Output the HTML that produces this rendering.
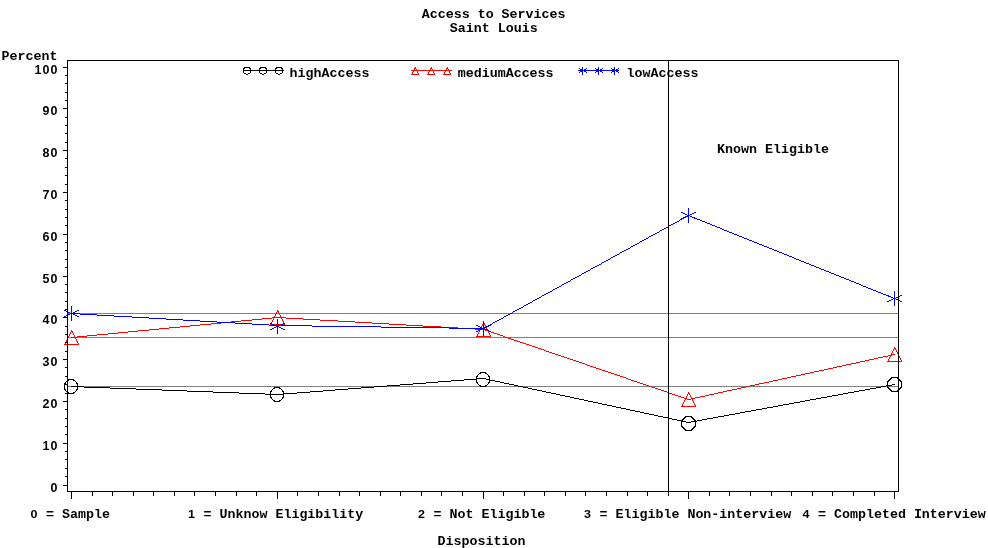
<!DOCTYPE html>
<html lang="en"><head><meta charset="utf-8"><title>Access to Services - Saint Louis</title>
<style>
html,body{margin:0;padding:0;background:#fff;}
body{width:988px;height:548px;overflow:hidden;position:relative;}
svg{position:absolute;left:0;top:0;display:block;}
text{font-family:"Liberation Mono","DejaVu Sans Mono",monospace;font-size:13.333px;font-weight:bold;fill:#000;white-space:pre;}
.d{font-family:"Liberation Sans","DejaVu Sans",sans-serif;font-size:12.5px;letter-spacing:1.05px;}
path{shape-rendering:crispEdges;stroke:none;}
</style></head><body>
<svg width="988" height="548" viewBox="0 0 988 548">
<rect x="0" y="0" width="988" height="548" fill="#fff"/>
<path fill="#808080" d="M68 313h830v1h-830zM68 337h830v1h-830zM68 386h830v1h-830z"/>
<path fill="#000" d="M480 372h6v1h-6zM479 373h2v1h-2zM485 373h2v1h-2zM478 374h1v1h-1zM487 374h1v1h-1zM477 375h1v1h-1zM488 375h1v1h-1zM476 376h2v1h-2zM488 376h2v1h-2zM476 377h1v1h-1zM489 377h1v1h-1zM891 377h7v1h-7zM476 378h10v1h-10zM489 378h1v1h-1zM890 378h2v1h-2zM897 378h2v1h-2zM68 379h6v1h-6zM464 379h13v1h-13zM486 379h4v1h-4zM889 379h2v1h-2zM898 379h2v1h-2zM67 380h2v1h-2zM73 380h2v1h-2zM451 380h13v1h-13zM476 380h1v1h-1zM489 380h6v1h-6zM888 380h2v1h-2zM899 380h2v1h-2zM66 381h1v1h-1zM75 381h1v1h-1zM438 381h13v1h-13zM476 381h1v1h-1zM489 381h1v1h-1zM495 381h5v1h-5zM887 381h2v1h-2zM900 381h2v1h-2zM65 382h1v1h-1zM76 382h1v1h-1zM426 382h12v1h-12zM476 382h2v1h-2zM488 382h2v1h-2zM500 382h4v1h-4zM887 382h1v1h-1zM901 382h1v1h-1zM64 383h2v1h-2zM76 383h2v1h-2zM413 383h13v1h-13zM477 383h1v1h-1zM488 383h1v1h-1zM504 383h5v1h-5zM887 383h1v1h-1zM901 383h1v1h-1zM64 384h1v1h-1zM77 384h1v1h-1zM400 384h13v1h-13zM478 384h1v1h-1zM487 384h1v1h-1zM509 384h5v1h-5zM887 384h1v1h-1zM892 384h3v1h-3zM901 384h1v1h-1zM64 385h1v1h-1zM77 385h1v1h-1zM387 385h13v1h-13zM479 385h2v1h-2zM485 385h2v1h-2zM514 385h4v1h-4zM886 385h6v1h-6zM901 385h1v1h-1zM64 386h1v1h-1zM71 386h13v1h-13zM374 386h13v1h-13zM480 386h6v1h-6zM518 386h5v1h-5zM881 386h5v1h-5zM887 386h1v1h-1zM901 386h1v1h-1zM64 387h1v1h-1zM77 387h1v1h-1zM84 387h26v1h-26zM274 387h6v1h-6zM361 387h13v1h-13zM523 387h5v1h-5zM876 387h5v1h-5zM887 387h2v1h-2zM900 387h2v1h-2zM64 388h1v1h-1zM77 388h1v1h-1zM110 388h26v1h-26zM273 388h2v1h-2zM279 388h2v1h-2zM348 388h13v1h-13zM528 388h4v1h-4zM870 388h6v1h-6zM888 388h2v1h-2zM899 388h2v1h-2zM64 389h2v1h-2zM76 389h2v1h-2zM136 389h26v1h-26zM272 389h1v1h-1zM281 389h1v1h-1zM335 389h13v1h-13zM532 389h5v1h-5zM865 389h5v1h-5zM889 389h2v1h-2zM898 389h2v1h-2zM65 390h1v1h-1zM76 390h1v1h-1zM162 390h25v1h-25zM271 390h1v1h-1zM282 390h1v1h-1zM323 390h12v1h-12zM537 390h5v1h-5zM859 390h6v1h-6zM890 390h2v1h-2zM897 390h2v1h-2zM66 391h1v1h-1zM75 391h1v1h-1zM187 391h26v1h-26zM270 391h2v1h-2zM282 391h2v1h-2zM310 391h13v1h-13zM542 391h4v1h-4zM854 391h5v1h-5zM891 391h7v1h-7zM67 392h2v1h-2zM73 392h2v1h-2zM213 392h26v1h-26zM270 392h1v1h-1zM283 392h1v1h-1zM297 392h13v1h-13zM546 392h5v1h-5zM848 392h6v1h-6zM68 393h6v1h-6zM239 393h26v1h-26zM270 393h1v1h-1zM283 393h14v1h-14zM551 393h5v1h-5zM843 393h5v1h-5zM265 394h19v1h-19zM556 394h4v1h-4zM838 394h5v1h-5zM270 395h1v1h-1zM283 395h1v1h-1zM560 395h5v1h-5zM832 395h6v1h-6zM270 396h1v1h-1zM283 396h1v1h-1zM565 396h5v1h-5zM827 396h5v1h-5zM270 397h2v1h-2zM282 397h2v1h-2zM570 397h4v1h-4zM821 397h6v1h-6zM271 398h1v1h-1zM282 398h1v1h-1zM574 398h5v1h-5zM816 398h5v1h-5zM272 399h1v1h-1zM281 399h1v1h-1zM579 399h5v1h-5zM810 399h6v1h-6zM273 400h2v1h-2zM279 400h2v1h-2zM584 400h4v1h-4zM805 400h5v1h-5zM274 401h6v1h-6zM588 401h5v1h-5zM800 401h5v1h-5zM593 402h5v1h-5zM794 402h6v1h-6zM598 403h4v1h-4zM789 403h5v1h-5zM602 404h5v1h-5zM783 404h6v1h-6zM607 405h5v1h-5zM778 405h5v1h-5zM612 406h4v1h-4zM773 406h5v1h-5zM616 407h5v1h-5zM767 407h6v1h-6zM621 408h5v1h-5zM762 408h5v1h-5zM626 409h4v1h-4zM756 409h6v1h-6zM630 410h5v1h-5zM751 410h5v1h-5zM635 411h5v1h-5zM745 411h6v1h-6zM640 412h4v1h-4zM740 412h5v1h-5zM644 413h5v1h-5zM735 413h5v1h-5zM649 414h5v1h-5zM729 414h6v1h-6zM654 415h4v1h-4zM724 415h5v1h-5zM658 416h5v1h-5zM685 416h7v1h-7zM718 416h6v1h-6zM663 417h5v1h-5zM684 417h2v1h-2zM691 417h2v1h-2zM713 417h5v1h-5zM668 418h4v1h-4zM683 418h2v1h-2zM692 418h2v1h-2zM707 418h6v1h-6zM672 419h5v1h-5zM682 419h2v1h-2zM693 419h2v1h-2zM702 419h5v1h-5zM677 420h6v1h-6zM694 420h2v1h-2zM697 420h5v1h-5zM681 421h5v1h-5zM691 421h6v1h-6zM681 422h1v1h-1zM686 422h5v1h-5zM695 422h1v1h-1zM681 423h1v1h-1zM695 423h1v1h-1zM681 424h1v1h-1zM695 424h1v1h-1zM681 425h1v1h-1zM695 425h1v1h-1zM681 426h2v1h-2zM694 426h2v1h-2zM682 427h2v1h-2zM693 427h2v1h-2zM683 428h2v1h-2zM692 428h2v1h-2zM684 429h2v1h-2zM691 429h2v1h-2zM685 430h7v1h-7z"/>
<path fill="#f00" d="M415 67h1v1h-1zM431 67h1v1h-1zM447 67h1v1h-1zM414 68h2v1h-2zM430 68h2v1h-2zM446 68h2v1h-2zM414 69h1v1h-1zM416 69h1v1h-1zM430 69h1v1h-1zM432 69h1v1h-1zM446 69h1v1h-1zM448 69h1v1h-1zM411 70h41v1h-41zM413 71h1v1h-1zM417 71h1v1h-1zM429 71h1v1h-1zM433 71h1v1h-1zM445 71h1v1h-1zM449 71h1v1h-1zM412 72h1v1h-1zM417 72h1v1h-1zM428 72h1v1h-1zM433 72h1v1h-1zM444 72h1v1h-1zM449 72h1v1h-1zM412 73h1v1h-1zM418 73h1v1h-1zM428 73h1v1h-1zM434 73h1v1h-1zM444 73h1v1h-1zM450 73h1v1h-1zM411 74h8v1h-8zM427 74h8v1h-8zM443 74h8v1h-8zM277 310h1v1h-1zM277 311h2v1h-2zM276 312h1v1h-1zM278 312h1v1h-1zM276 313h1v1h-1zM279 313h1v1h-1zM275 314h1v1h-1zM279 314h1v1h-1zM275 315h1v1h-1zM280 315h1v1h-1zM274 316h1v1h-1zM280 316h1v1h-1zM272 317h14v1h-14zM262 318h10v1h-10zM273 318h1v1h-1zM281 318h1v1h-1zM286 318h17v1h-17zM252 319h10v1h-10zM273 319h1v1h-1zM282 319h1v1h-1zM303 319h17v1h-17zM241 320h11v1h-11zM272 320h1v1h-1zM282 320h1v1h-1zM320 320h18v1h-18zM231 321h10v1h-10zM272 321h1v1h-1zM283 321h1v1h-1zM338 321h17v1h-17zM221 322h10v1h-10zM271 322h1v1h-1zM283 322h1v1h-1zM355 322h17v1h-17zM483 322h1v1h-1zM211 323h10v1h-10zM271 323h1v1h-1zM284 323h1v1h-1zM372 323h17v1h-17zM483 323h2v1h-2zM200 324h11v1h-11zM270 324h15v1h-15zM389 324h17v1h-17zM482 324h1v1h-1zM484 324h1v1h-1zM190 325h10v1h-10zM406 325h17v1h-17zM482 325h1v1h-1zM485 325h1v1h-1zM180 326h10v1h-10zM423 326h18v1h-18zM481 326h1v1h-1zM485 326h1v1h-1zM169 327h11v1h-11zM441 327h17v1h-17zM481 327h1v1h-1zM486 327h1v1h-1zM159 328h10v1h-10zM458 328h17v1h-17zM480 328h1v1h-1zM486 328h1v1h-1zM149 329h10v1h-10zM475 329h10v1h-10zM487 329h1v1h-1zM71 330h1v1h-1zM138 330h11v1h-11zM479 330h1v1h-1zM485 330h3v1h-3zM71 331h2v1h-2zM128 331h10v1h-10zM479 331h1v1h-1zM488 331h3v1h-3zM70 332h1v1h-1zM72 332h1v1h-1zM118 332h10v1h-10zM478 332h1v1h-1zM488 332h1v1h-1zM491 332h3v1h-3zM70 333h1v1h-1zM73 333h1v1h-1zM108 333h10v1h-10zM478 333h1v1h-1zM489 333h1v1h-1zM494 333h3v1h-3zM69 334h1v1h-1zM73 334h1v1h-1zM97 334h11v1h-11zM477 334h1v1h-1zM489 334h1v1h-1zM497 334h3v1h-3zM69 335h1v1h-1zM74 335h1v1h-1zM87 335h10v1h-10zM477 335h1v1h-1zM490 335h1v1h-1zM500 335h3v1h-3zM68 336h1v1h-1zM74 336h1v1h-1zM77 336h10v1h-10zM476 336h15v1h-15zM503 336h2v1h-2zM68 337h1v1h-1zM71 337h6v1h-6zM505 337h3v1h-3zM67 338h1v1h-1zM75 338h1v1h-1zM508 338h3v1h-3zM67 339h1v1h-1zM76 339h1v1h-1zM511 339h3v1h-3zM66 340h1v1h-1zM76 340h1v1h-1zM514 340h3v1h-3zM66 341h1v1h-1zM77 341h1v1h-1zM517 341h3v1h-3zM65 342h1v1h-1zM77 342h1v1h-1zM520 342h3v1h-3zM65 343h1v1h-1zM78 343h1v1h-1zM523 343h3v1h-3zM64 344h15v1h-15zM526 344h3v1h-3zM529 345h3v1h-3zM532 346h3v1h-3zM535 347h3v1h-3zM894 347h1v1h-1zM538 348h3v1h-3zM894 348h2v1h-2zM541 349h3v1h-3zM893 349h1v1h-1zM895 349h1v1h-1zM544 350h2v1h-2zM893 350h1v1h-1zM896 350h1v1h-1zM546 351h3v1h-3zM892 351h1v1h-1zM896 351h1v1h-1zM549 352h3v1h-3zM892 352h1v1h-1zM897 352h1v1h-1zM552 353h3v1h-3zM891 353h1v1h-1zM897 353h1v1h-1zM555 354h3v1h-3zM891 354h4v1h-4zM898 354h1v1h-1zM558 355h3v1h-3zM888 355h4v1h-4zM898 355h1v1h-1zM561 356h3v1h-3zM883 356h5v1h-5zM890 356h1v1h-1zM899 356h1v1h-1zM564 357h3v1h-3zM878 357h5v1h-5zM889 357h1v1h-1zM899 357h1v1h-1zM567 358h3v1h-3zM874 358h4v1h-4zM889 358h1v1h-1zM900 358h1v1h-1zM570 359h3v1h-3zM869 359h5v1h-5zM888 359h1v1h-1zM900 359h1v1h-1zM573 360h3v1h-3zM865 360h4v1h-4zM888 360h1v1h-1zM901 360h1v1h-1zM576 361h3v1h-3zM860 361h5v1h-5zM887 361h15v1h-15zM579 362h3v1h-3zM856 362h4v1h-4zM582 363h3v1h-3zM851 363h5v1h-5zM585 364h2v1h-2zM846 364h5v1h-5zM587 365h3v1h-3zM842 365h4v1h-4zM590 366h3v1h-3zM837 366h5v1h-5zM593 367h3v1h-3zM833 367h4v1h-4zM596 368h3v1h-3zM828 368h5v1h-5zM599 369h3v1h-3zM824 369h4v1h-4zM602 370h3v1h-3zM819 370h5v1h-5zM605 371h3v1h-3zM814 371h5v1h-5zM608 372h3v1h-3zM810 372h4v1h-4zM611 373h3v1h-3zM805 373h5v1h-5zM614 374h3v1h-3zM801 374h4v1h-4zM617 375h3v1h-3zM796 375h5v1h-5zM620 376h3v1h-3zM791 376h5v1h-5zM623 377h3v1h-3zM787 377h4v1h-4zM626 378h2v1h-2zM782 378h5v1h-5zM628 379h3v1h-3zM778 379h4v1h-4zM631 380h3v1h-3zM773 380h5v1h-5zM634 381h3v1h-3zM769 381h4v1h-4zM637 382h3v1h-3zM764 382h5v1h-5zM640 383h3v1h-3zM759 383h5v1h-5zM643 384h3v1h-3zM755 384h4v1h-4zM646 385h3v1h-3zM750 385h5v1h-5zM649 386h3v1h-3zM746 386h4v1h-4zM652 387h3v1h-3zM741 387h5v1h-5zM655 388h3v1h-3zM737 388h4v1h-4zM658 389h3v1h-3zM732 389h5v1h-5zM661 390h3v1h-3zM727 390h5v1h-5zM664 391h3v1h-3zM723 391h4v1h-4zM667 392h2v1h-2zM688 392h1v1h-1zM718 392h5v1h-5zM669 393h3v1h-3zM688 393h2v1h-2zM714 393h4v1h-4zM672 394h3v1h-3zM687 394h1v1h-1zM689 394h1v1h-1zM709 394h5v1h-5zM675 395h3v1h-3zM687 395h1v1h-1zM690 395h1v1h-1zM705 395h4v1h-4zM678 396h3v1h-3zM686 396h1v1h-1zM690 396h1v1h-1zM700 396h5v1h-5zM681 397h3v1h-3zM686 397h1v1h-1zM691 397h1v1h-1zM695 397h5v1h-5zM684 398h3v1h-3zM691 398h4v1h-4zM685 399h1v1h-1zM687 399h4v1h-4zM692 399h1v1h-1zM684 400h1v1h-1zM692 400h1v1h-1zM684 401h1v1h-1zM693 401h1v1h-1zM683 402h1v1h-1zM693 402h1v1h-1zM683 403h1v1h-1zM694 403h1v1h-1zM682 404h1v1h-1zM694 404h1v1h-1zM682 405h1v1h-1zM695 405h1v1h-1zM681 406h15v1h-15z"/>
<path fill="#00f" d="M582 67h1v1h-1zM598 67h1v1h-1zM614 67h1v1h-1zM579 68h1v1h-1zM582 68h1v1h-1zM586 68h1v1h-1zM595 68h1v1h-1zM598 68h1v1h-1zM602 68h1v1h-1zM611 68h1v1h-1zM614 68h1v1h-1zM618 68h1v1h-1zM580 69h3v1h-3zM584 69h2v1h-2zM596 69h3v1h-3zM600 69h2v1h-2zM612 69h3v1h-3zM616 69h2v1h-2zM578 70h41v1h-41zM580 71h3v1h-3zM584 71h2v1h-2zM596 71h3v1h-3zM600 71h2v1h-2zM612 71h3v1h-3zM616 71h2v1h-2zM579 72h1v1h-1zM582 72h1v1h-1zM586 72h1v1h-1zM595 72h1v1h-1zM598 72h1v1h-1zM602 72h1v1h-1zM611 72h1v1h-1zM614 72h1v1h-1zM618 72h1v1h-1zM582 73h1v1h-1zM598 73h1v1h-1zM614 73h1v1h-1zM582 74h1v1h-1zM598 74h1v1h-1zM614 74h1v1h-1zM688 208h1v1h-1zM688 209h1v1h-1zM688 210h1v1h-1zM688 211h1v1h-1zM681 212h2v1h-2zM688 212h1v1h-1zM694 212h2v1h-2zM683 213h2v1h-2zM688 213h1v1h-1zM692 213h2v1h-2zM685 214h2v1h-2zM688 214h1v1h-1zM690 214h2v1h-2zM687 215h3v1h-3zM685 216h4v1h-4zM690 216h2v1h-2zM683 217h3v1h-3zM688 217h1v1h-1zM692 217h3v1h-3zM681 218h3v1h-3zM688 218h1v1h-1zM694 218h3v1h-3zM680 219h2v1h-2zM688 219h1v1h-1zM697 219h3v1h-3zM679 220h1v1h-1zM688 220h1v1h-1zM700 220h2v1h-2zM677 221h2v1h-2zM688 221h1v1h-1zM702 221h3v1h-3zM675 222h2v1h-2zM688 222h1v1h-1zM705 222h2v1h-2zM673 223h2v1h-2zM707 223h3v1h-3zM671 224h2v1h-2zM710 224h2v1h-2zM669 225h2v1h-2zM712 225h3v1h-3zM668 226h1v1h-1zM715 226h2v1h-2zM666 227h2v1h-2zM717 227h3v1h-3zM664 228h2v1h-2zM720 228h2v1h-2zM662 229h2v1h-2zM722 229h2v1h-2zM660 230h2v1h-2zM724 230h3v1h-3zM659 231h1v1h-1zM727 231h2v1h-2zM657 232h2v1h-2zM729 232h3v1h-3zM655 233h2v1h-2zM732 233h2v1h-2zM653 234h2v1h-2zM734 234h3v1h-3zM651 235h2v1h-2zM737 235h2v1h-2zM649 236h2v1h-2zM739 236h3v1h-3zM648 237h1v1h-1zM742 237h2v1h-2zM646 238h2v1h-2zM744 238h3v1h-3zM644 239h2v1h-2zM747 239h2v1h-2zM642 240h2v1h-2zM749 240h3v1h-3zM640 241h2v1h-2zM752 241h2v1h-2zM639 242h1v1h-1zM754 242h3v1h-3zM637 243h2v1h-2zM757 243h2v1h-2zM635 244h2v1h-2zM759 244h3v1h-3zM633 245h2v1h-2zM762 245h2v1h-2zM631 246h2v1h-2zM764 246h3v1h-3zM630 247h1v1h-1zM767 247h2v1h-2zM628 248h2v1h-2zM769 248h3v1h-3zM626 249h2v1h-2zM772 249h2v1h-2zM624 250h2v1h-2zM774 250h3v1h-3zM622 251h2v1h-2zM777 251h2v1h-2zM620 252h2v1h-2zM779 252h3v1h-3zM619 253h1v1h-1zM782 253h2v1h-2zM617 254h2v1h-2zM784 254h3v1h-3zM615 255h2v1h-2zM787 255h2v1h-2zM613 256h2v1h-2zM789 256h3v1h-3zM611 257h2v1h-2zM792 257h2v1h-2zM610 258h1v1h-1zM794 258h2v1h-2zM608 259h2v1h-2zM796 259h3v1h-3zM606 260h2v1h-2zM799 260h2v1h-2zM604 261h2v1h-2zM801 261h3v1h-3zM602 262h2v1h-2zM804 262h2v1h-2zM601 263h1v1h-1zM806 263h3v1h-3zM599 264h2v1h-2zM809 264h2v1h-2zM597 265h2v1h-2zM811 265h3v1h-3zM595 266h2v1h-2zM814 266h2v1h-2zM593 267h2v1h-2zM816 267h3v1h-3zM591 268h2v1h-2zM819 268h2v1h-2zM590 269h1v1h-1zM821 269h3v1h-3zM588 270h2v1h-2zM824 270h2v1h-2zM586 271h2v1h-2zM826 271h3v1h-3zM584 272h2v1h-2zM829 272h2v1h-2zM582 273h2v1h-2zM831 273h3v1h-3zM581 274h1v1h-1zM834 274h2v1h-2zM579 275h2v1h-2zM836 275h3v1h-3zM577 276h2v1h-2zM839 276h2v1h-2zM575 277h2v1h-2zM841 277h3v1h-3zM573 278h2v1h-2zM844 278h2v1h-2zM571 279h2v1h-2zM846 279h3v1h-3zM570 280h1v1h-1zM849 280h2v1h-2zM568 281h2v1h-2zM851 281h3v1h-3zM566 282h2v1h-2zM854 282h2v1h-2zM564 283h2v1h-2zM856 283h3v1h-3zM562 284h2v1h-2zM859 284h2v1h-2zM561 285h1v1h-1zM861 285h2v1h-2zM559 286h2v1h-2zM863 286h3v1h-3zM557 287h2v1h-2zM866 287h2v1h-2zM555 288h2v1h-2zM868 288h3v1h-3zM553 289h2v1h-2zM871 289h2v1h-2zM552 290h1v1h-1zM873 290h3v1h-3zM550 291h2v1h-2zM876 291h2v1h-2zM894 291h1v1h-1zM548 292h2v1h-2zM878 292h3v1h-3zM894 292h1v1h-1zM546 293h2v1h-2zM881 293h2v1h-2zM894 293h1v1h-1zM544 294h2v1h-2zM883 294h3v1h-3zM894 294h1v1h-1zM542 295h2v1h-2zM886 295h3v1h-3zM894 295h1v1h-1zM900 295h2v1h-2zM541 296h1v1h-1zM888 296h3v1h-3zM894 296h1v1h-1zM898 296h2v1h-2zM539 297h2v1h-2zM891 297h2v1h-2zM894 297h1v1h-1zM896 297h2v1h-2zM537 298h2v1h-2zM893 298h3v1h-3zM535 299h2v1h-2zM891 299h2v1h-2zM894 299h1v1h-1zM896 299h2v1h-2zM533 300h2v1h-2zM889 300h2v1h-2zM894 300h1v1h-1zM898 300h2v1h-2zM532 301h1v1h-1zM887 301h2v1h-2zM894 301h1v1h-1zM900 301h2v1h-2zM530 302h2v1h-2zM894 302h1v1h-1zM528 303h2v1h-2zM894 303h1v1h-1zM526 304h2v1h-2zM894 304h1v1h-1zM524 305h2v1h-2zM894 305h1v1h-1zM71 306h1v1h-1zM523 306h1v1h-1zM71 307h1v1h-1zM521 307h2v1h-2zM71 308h1v1h-1zM519 308h2v1h-2zM71 309h1v1h-1zM517 309h2v1h-2zM64 310h2v1h-2zM71 310h1v1h-1zM77 310h2v1h-2zM515 310h2v1h-2zM66 311h2v1h-2zM71 311h1v1h-1zM75 311h2v1h-2zM513 311h2v1h-2zM68 312h2v1h-2zM71 312h1v1h-1zM73 312h2v1h-2zM512 312h1v1h-1zM70 313h10v1h-10zM510 313h2v1h-2zM68 314h2v1h-2zM71 314h1v1h-1zM73 314h2v1h-2zM80 314h17v1h-17zM508 314h2v1h-2zM66 315h2v1h-2zM71 315h1v1h-1zM75 315h2v1h-2zM97 315h17v1h-17zM506 315h2v1h-2zM64 316h2v1h-2zM71 316h1v1h-1zM77 316h2v1h-2zM114 316h18v1h-18zM504 316h2v1h-2zM71 317h1v1h-1zM132 317h17v1h-17zM503 317h1v1h-1zM71 318h1v1h-1zM149 318h17v1h-17zM501 318h2v1h-2zM71 319h1v1h-1zM166 319h17v1h-17zM277 319h1v1h-1zM499 319h2v1h-2zM71 320h1v1h-1zM183 320h17v1h-17zM277 320h1v1h-1zM497 320h2v1h-2zM200 321h17v1h-17zM277 321h1v1h-1zM483 321h1v1h-1zM495 321h2v1h-2zM217 322h18v1h-18zM277 322h1v1h-1zM483 322h1v1h-1zM493 322h2v1h-2zM235 323h17v1h-17zM270 323h2v1h-2zM277 323h1v1h-1zM283 323h2v1h-2zM483 323h1v1h-1zM492 323h1v1h-1zM252 324h17v1h-17zM272 324h2v1h-2zM277 324h1v1h-1zM281 324h2v1h-2zM483 324h1v1h-1zM490 324h2v1h-2zM269 325h43v1h-43zM476 325h2v1h-2zM483 325h1v1h-1zM488 325h3v1h-3zM276 326h3v1h-3zM312 326h69v1h-69zM478 326h2v1h-2zM483 326h1v1h-1zM486 326h3v1h-3zM274 327h2v1h-2zM277 327h1v1h-1zM279 327h2v1h-2zM381 327h68v1h-68zM480 327h2v1h-2zM483 327h4v1h-4zM272 328h2v1h-2zM277 328h1v1h-1zM281 328h2v1h-2zM449 328h36v1h-36zM270 329h2v1h-2zM277 329h1v1h-1zM283 329h2v1h-2zM480 329h2v1h-2zM483 329h1v1h-1zM485 329h2v1h-2zM277 330h1v1h-1zM478 330h2v1h-2zM483 330h1v1h-1zM487 330h2v1h-2zM277 331h1v1h-1zM476 331h2v1h-2zM483 331h1v1h-1zM489 331h2v1h-2zM277 332h1v1h-1zM483 332h1v1h-1zM277 333h1v1h-1zM483 333h1v1h-1zM483 334h1v1h-1zM483 335h1v1h-1z"/>
<path fill="#000" d="M67 60h832v1h-832zM67 61h1v1h-1zM668 61h1v1h-1zM898 61h1v1h-1zM67 62h1v1h-1zM668 62h1v1h-1zM898 62h1v1h-1zM67 63h1v1h-1zM668 63h1v1h-1zM898 63h1v1h-1zM67 64h1v1h-1zM668 64h1v1h-1zM898 64h1v1h-1zM67 65h1v1h-1zM668 65h1v1h-1zM898 65h1v1h-1zM67 66h1v1h-1zM668 66h1v1h-1zM898 66h1v1h-1zM63 67h5v1h-5zM244 67h6v1h-6zM260 67h6v1h-6zM276 67h6v1h-6zM668 67h1v1h-1zM898 67h1v1h-1zM67 68h1v1h-1zM243 68h2v1h-2zM249 68h2v1h-2zM259 68h2v1h-2zM265 68h2v1h-2zM275 68h2v1h-2zM281 68h2v1h-2zM668 68h1v1h-1zM898 68h1v1h-1zM67 69h1v1h-1zM243 69h1v1h-1zM250 69h1v1h-1zM259 69h1v1h-1zM266 69h1v1h-1zM275 69h1v1h-1zM282 69h1v1h-1zM668 69h1v1h-1zM898 69h1v1h-1zM67 70h1v1h-1zM243 70h41v1h-41zM668 70h1v1h-1zM898 70h1v1h-1zM67 71h1v1h-1zM243 71h1v1h-1zM250 71h1v1h-1zM259 71h1v1h-1zM266 71h1v1h-1zM275 71h1v1h-1zM282 71h1v1h-1zM668 71h1v1h-1zM898 71h1v1h-1zM67 72h1v1h-1zM243 72h1v1h-1zM250 72h1v1h-1zM259 72h1v1h-1zM266 72h1v1h-1zM275 72h1v1h-1zM282 72h1v1h-1zM668 72h1v1h-1zM898 72h1v1h-1zM67 73h1v1h-1zM244 73h2v1h-2zM248 73h2v1h-2zM260 73h2v1h-2zM264 73h2v1h-2zM276 73h2v1h-2zM280 73h2v1h-2zM668 73h1v1h-1zM898 73h1v1h-1zM67 74h1v1h-1zM246 74h2v1h-2zM262 74h2v1h-2zM278 74h2v1h-2zM668 74h1v1h-1zM898 74h1v1h-1zM65 75h3v1h-3zM668 75h1v1h-1zM898 75h1v1h-1zM67 76h1v1h-1zM668 76h1v1h-1zM898 76h1v1h-1zM67 77h1v1h-1zM668 77h1v1h-1zM898 77h1v1h-1zM67 78h1v1h-1zM668 78h1v1h-1zM898 78h1v1h-1zM67 79h1v1h-1zM668 79h1v1h-1zM898 79h1v1h-1zM67 80h1v1h-1zM668 80h1v1h-1zM898 80h1v1h-1zM67 81h1v1h-1zM668 81h1v1h-1zM898 81h1v1h-1zM67 82h1v1h-1zM668 82h1v1h-1zM898 82h1v1h-1zM65 83h3v1h-3zM668 83h1v1h-1zM898 83h1v1h-1zM67 84h1v1h-1zM668 84h1v1h-1zM898 84h1v1h-1zM67 85h1v1h-1zM668 85h1v1h-1zM898 85h1v1h-1zM67 86h1v1h-1zM668 86h1v1h-1zM898 86h1v1h-1zM67 87h1v1h-1zM668 87h1v1h-1zM898 87h1v1h-1zM67 88h1v1h-1zM668 88h1v1h-1zM898 88h1v1h-1zM67 89h1v1h-1zM668 89h1v1h-1zM898 89h1v1h-1zM67 90h1v1h-1zM668 90h1v1h-1zM898 90h1v1h-1zM67 91h1v1h-1zM668 91h1v1h-1zM898 91h1v1h-1zM65 92h3v1h-3zM668 92h1v1h-1zM898 92h1v1h-1zM67 93h1v1h-1zM668 93h1v1h-1zM898 93h1v1h-1zM67 94h1v1h-1zM668 94h1v1h-1zM898 94h1v1h-1zM67 95h1v1h-1zM668 95h1v1h-1zM898 95h1v1h-1zM67 96h1v1h-1zM668 96h1v1h-1zM898 96h1v1h-1zM67 97h1v1h-1zM668 97h1v1h-1zM898 97h1v1h-1zM67 98h1v1h-1zM668 98h1v1h-1zM898 98h1v1h-1zM67 99h1v1h-1zM668 99h1v1h-1zM898 99h1v1h-1zM65 100h3v1h-3zM668 100h1v1h-1zM898 100h1v1h-1zM67 101h1v1h-1zM668 101h1v1h-1zM898 101h1v1h-1zM67 102h1v1h-1zM668 102h1v1h-1zM898 102h1v1h-1zM67 103h1v1h-1zM668 103h1v1h-1zM898 103h1v1h-1zM67 104h1v1h-1zM668 104h1v1h-1zM898 104h1v1h-1zM67 105h1v1h-1zM668 105h1v1h-1zM898 105h1v1h-1zM67 106h1v1h-1zM668 106h1v1h-1zM898 106h1v1h-1zM67 107h1v1h-1zM668 107h1v1h-1zM898 107h1v1h-1zM63 108h5v1h-5zM668 108h1v1h-1zM898 108h1v1h-1zM67 109h1v1h-1zM668 109h1v1h-1zM898 109h1v1h-1zM67 110h1v1h-1zM668 110h1v1h-1zM898 110h1v1h-1zM67 111h1v1h-1zM668 111h1v1h-1zM898 111h1v1h-1zM67 112h1v1h-1zM668 112h1v1h-1zM898 112h1v1h-1zM67 113h1v1h-1zM668 113h1v1h-1zM898 113h1v1h-1zM67 114h1v1h-1zM668 114h1v1h-1zM898 114h1v1h-1zM67 115h1v1h-1zM668 115h1v1h-1zM898 115h1v1h-1zM67 116h1v1h-1zM668 116h1v1h-1zM898 116h1v1h-1zM65 117h3v1h-3zM668 117h1v1h-1zM898 117h1v1h-1zM67 118h1v1h-1zM668 118h1v1h-1zM898 118h1v1h-1zM67 119h1v1h-1zM668 119h1v1h-1zM898 119h1v1h-1zM67 120h1v1h-1zM668 120h1v1h-1zM898 120h1v1h-1zM67 121h1v1h-1zM668 121h1v1h-1zM898 121h1v1h-1zM67 122h1v1h-1zM668 122h1v1h-1zM898 122h1v1h-1zM67 123h1v1h-1zM668 123h1v1h-1zM898 123h1v1h-1zM67 124h1v1h-1zM668 124h1v1h-1zM898 124h1v1h-1zM65 125h3v1h-3zM668 125h1v1h-1zM898 125h1v1h-1zM67 126h1v1h-1zM668 126h1v1h-1zM898 126h1v1h-1zM67 127h1v1h-1zM668 127h1v1h-1zM898 127h1v1h-1zM67 128h1v1h-1zM668 128h1v1h-1zM898 128h1v1h-1zM67 129h1v1h-1zM668 129h1v1h-1zM898 129h1v1h-1zM67 130h1v1h-1zM668 130h1v1h-1zM898 130h1v1h-1zM67 131h1v1h-1zM668 131h1v1h-1zM898 131h1v1h-1zM67 132h1v1h-1zM668 132h1v1h-1zM898 132h1v1h-1zM65 133h3v1h-3zM668 133h1v1h-1zM898 133h1v1h-1zM67 134h1v1h-1zM668 134h1v1h-1zM898 134h1v1h-1zM67 135h1v1h-1zM668 135h1v1h-1zM898 135h1v1h-1zM67 136h1v1h-1zM668 136h1v1h-1zM898 136h1v1h-1zM67 137h1v1h-1zM668 137h1v1h-1zM898 137h1v1h-1zM67 138h1v1h-1zM668 138h1v1h-1zM898 138h1v1h-1zM67 139h1v1h-1zM668 139h1v1h-1zM898 139h1v1h-1zM67 140h1v1h-1zM668 140h1v1h-1zM898 140h1v1h-1zM67 141h1v1h-1zM668 141h1v1h-1zM898 141h1v1h-1zM65 142h3v1h-3zM668 142h1v1h-1zM898 142h1v1h-1zM67 143h1v1h-1zM668 143h1v1h-1zM898 143h1v1h-1zM67 144h1v1h-1zM668 144h1v1h-1zM898 144h1v1h-1zM67 145h1v1h-1zM668 145h1v1h-1zM898 145h1v1h-1zM67 146h1v1h-1zM668 146h1v1h-1zM898 146h1v1h-1zM67 147h1v1h-1zM668 147h1v1h-1zM898 147h1v1h-1zM67 148h1v1h-1zM668 148h1v1h-1zM898 148h1v1h-1zM67 149h1v1h-1zM668 149h1v1h-1zM898 149h1v1h-1zM63 150h5v1h-5zM668 150h1v1h-1zM898 150h1v1h-1zM67 151h1v1h-1zM668 151h1v1h-1zM898 151h1v1h-1zM67 152h1v1h-1zM668 152h1v1h-1zM898 152h1v1h-1zM67 153h1v1h-1zM668 153h1v1h-1zM898 153h1v1h-1zM67 154h1v1h-1zM668 154h1v1h-1zM898 154h1v1h-1zM67 155h1v1h-1zM668 155h1v1h-1zM898 155h1v1h-1zM67 156h1v1h-1zM668 156h1v1h-1zM898 156h1v1h-1zM67 157h1v1h-1zM668 157h1v1h-1zM898 157h1v1h-1zM65 158h3v1h-3zM668 158h1v1h-1zM898 158h1v1h-1zM67 159h1v1h-1zM668 159h1v1h-1zM898 159h1v1h-1zM67 160h1v1h-1zM668 160h1v1h-1zM898 160h1v1h-1zM67 161h1v1h-1zM668 161h1v1h-1zM898 161h1v1h-1zM67 162h1v1h-1zM668 162h1v1h-1zM898 162h1v1h-1zM67 163h1v1h-1zM668 163h1v1h-1zM898 163h1v1h-1zM67 164h1v1h-1zM668 164h1v1h-1zM898 164h1v1h-1zM67 165h1v1h-1zM668 165h1v1h-1zM898 165h1v1h-1zM67 166h1v1h-1zM668 166h1v1h-1zM898 166h1v1h-1zM65 167h3v1h-3zM668 167h1v1h-1zM898 167h1v1h-1zM67 168h1v1h-1zM668 168h1v1h-1zM898 168h1v1h-1zM67 169h1v1h-1zM668 169h1v1h-1zM898 169h1v1h-1zM67 170h1v1h-1zM668 170h1v1h-1zM898 170h1v1h-1zM67 171h1v1h-1zM668 171h1v1h-1zM898 171h1v1h-1zM67 172h1v1h-1zM668 172h1v1h-1zM898 172h1v1h-1zM67 173h1v1h-1zM668 173h1v1h-1zM898 173h1v1h-1zM67 174h1v1h-1zM668 174h1v1h-1zM898 174h1v1h-1zM65 175h3v1h-3zM668 175h1v1h-1zM898 175h1v1h-1zM67 176h1v1h-1zM668 176h1v1h-1zM898 176h1v1h-1zM67 177h1v1h-1zM668 177h1v1h-1zM898 177h1v1h-1zM67 178h1v1h-1zM668 178h1v1h-1zM898 178h1v1h-1zM67 179h1v1h-1zM668 179h1v1h-1zM898 179h1v1h-1zM67 180h1v1h-1zM668 180h1v1h-1zM898 180h1v1h-1zM67 181h1v1h-1zM668 181h1v1h-1zM898 181h1v1h-1zM67 182h1v1h-1zM668 182h1v1h-1zM898 182h1v1h-1zM67 183h1v1h-1zM668 183h1v1h-1zM898 183h1v1h-1zM65 184h3v1h-3zM668 184h1v1h-1zM898 184h1v1h-1zM67 185h1v1h-1zM668 185h1v1h-1zM898 185h1v1h-1zM67 186h1v1h-1zM668 186h1v1h-1zM898 186h1v1h-1zM67 187h1v1h-1zM668 187h1v1h-1zM898 187h1v1h-1zM67 188h1v1h-1zM668 188h1v1h-1zM898 188h1v1h-1zM67 189h1v1h-1zM668 189h1v1h-1zM898 189h1v1h-1zM67 190h1v1h-1zM668 190h1v1h-1zM898 190h1v1h-1zM67 191h1v1h-1zM668 191h1v1h-1zM898 191h1v1h-1zM63 192h5v1h-5zM668 192h1v1h-1zM898 192h1v1h-1zM67 193h1v1h-1zM668 193h1v1h-1zM898 193h1v1h-1zM67 194h1v1h-1zM668 194h1v1h-1zM898 194h1v1h-1zM67 195h1v1h-1zM668 195h1v1h-1zM898 195h1v1h-1zM67 196h1v1h-1zM668 196h1v1h-1zM898 196h1v1h-1zM67 197h1v1h-1zM668 197h1v1h-1zM898 197h1v1h-1zM67 198h1v1h-1zM668 198h1v1h-1zM898 198h1v1h-1zM67 199h1v1h-1zM668 199h1v1h-1zM898 199h1v1h-1zM65 200h3v1h-3zM668 200h1v1h-1zM898 200h1v1h-1zM67 201h1v1h-1zM668 201h1v1h-1zM898 201h1v1h-1zM67 202h1v1h-1zM668 202h1v1h-1zM898 202h1v1h-1zM67 203h1v1h-1zM668 203h1v1h-1zM898 203h1v1h-1zM67 204h1v1h-1zM668 204h1v1h-1zM898 204h1v1h-1zM67 205h1v1h-1zM668 205h1v1h-1zM898 205h1v1h-1zM67 206h1v1h-1zM668 206h1v1h-1zM898 206h1v1h-1zM67 207h1v1h-1zM668 207h1v1h-1zM898 207h1v1h-1zM67 208h1v1h-1zM668 208h1v1h-1zM898 208h1v1h-1zM65 209h3v1h-3zM668 209h1v1h-1zM898 209h1v1h-1zM67 210h1v1h-1zM668 210h1v1h-1zM898 210h1v1h-1zM67 211h1v1h-1zM668 211h1v1h-1zM898 211h1v1h-1zM67 212h1v1h-1zM668 212h1v1h-1zM898 212h1v1h-1zM67 213h1v1h-1zM668 213h1v1h-1zM898 213h1v1h-1zM67 214h1v1h-1zM668 214h1v1h-1zM898 214h1v1h-1zM67 215h1v1h-1zM668 215h1v1h-1zM898 215h1v1h-1zM67 216h1v1h-1zM668 216h1v1h-1zM898 216h1v1h-1zM65 217h3v1h-3zM668 217h1v1h-1zM898 217h1v1h-1zM67 218h1v1h-1zM668 218h1v1h-1zM898 218h1v1h-1zM67 219h1v1h-1zM668 219h1v1h-1zM898 219h1v1h-1zM67 220h1v1h-1zM668 220h1v1h-1zM898 220h1v1h-1zM67 221h1v1h-1zM668 221h1v1h-1zM898 221h1v1h-1zM67 222h1v1h-1zM668 222h1v1h-1zM898 222h1v1h-1zM67 223h1v1h-1zM668 223h1v1h-1zM898 223h1v1h-1zM67 224h1v1h-1zM668 224h1v1h-1zM898 224h1v1h-1zM65 225h3v1h-3zM668 225h1v1h-1zM898 225h1v1h-1zM67 226h1v1h-1zM668 226h1v1h-1zM898 226h1v1h-1zM67 227h1v1h-1zM668 227h1v1h-1zM898 227h1v1h-1zM67 228h1v1h-1zM668 228h1v1h-1zM898 228h1v1h-1zM67 229h1v1h-1zM668 229h1v1h-1zM898 229h1v1h-1zM67 230h1v1h-1zM668 230h1v1h-1zM898 230h1v1h-1zM67 231h1v1h-1zM668 231h1v1h-1zM898 231h1v1h-1zM67 232h1v1h-1zM668 232h1v1h-1zM898 232h1v1h-1zM67 233h1v1h-1zM668 233h1v1h-1zM898 233h1v1h-1zM63 234h5v1h-5zM668 234h1v1h-1zM898 234h1v1h-1zM67 235h1v1h-1zM668 235h1v1h-1zM898 235h1v1h-1zM67 236h1v1h-1zM668 236h1v1h-1zM898 236h1v1h-1zM67 237h1v1h-1zM668 237h1v1h-1zM898 237h1v1h-1zM67 238h1v1h-1zM668 238h1v1h-1zM898 238h1v1h-1zM67 239h1v1h-1zM668 239h1v1h-1zM898 239h1v1h-1zM67 240h1v1h-1zM668 240h1v1h-1zM898 240h1v1h-1zM67 241h1v1h-1zM668 241h1v1h-1zM898 241h1v1h-1zM65 242h3v1h-3zM668 242h1v1h-1zM898 242h1v1h-1zM67 243h1v1h-1zM668 243h1v1h-1zM898 243h1v1h-1zM67 244h1v1h-1zM668 244h1v1h-1zM898 244h1v1h-1zM67 245h1v1h-1zM668 245h1v1h-1zM898 245h1v1h-1zM67 246h1v1h-1zM668 246h1v1h-1zM898 246h1v1h-1zM67 247h1v1h-1zM668 247h1v1h-1zM898 247h1v1h-1zM67 248h1v1h-1zM668 248h1v1h-1zM898 248h1v1h-1zM67 249h1v1h-1zM668 249h1v1h-1zM898 249h1v1h-1zM65 250h3v1h-3zM668 250h1v1h-1zM898 250h1v1h-1zM67 251h1v1h-1zM668 251h1v1h-1zM898 251h1v1h-1zM67 252h1v1h-1zM668 252h1v1h-1zM898 252h1v1h-1zM67 253h1v1h-1zM668 253h1v1h-1zM898 253h1v1h-1zM67 254h1v1h-1zM668 254h1v1h-1zM898 254h1v1h-1zM67 255h1v1h-1zM668 255h1v1h-1zM898 255h1v1h-1zM67 256h1v1h-1zM668 256h1v1h-1zM898 256h1v1h-1zM67 257h1v1h-1zM668 257h1v1h-1zM898 257h1v1h-1zM67 258h1v1h-1zM668 258h1v1h-1zM898 258h1v1h-1zM65 259h3v1h-3zM668 259h1v1h-1zM898 259h1v1h-1zM67 260h1v1h-1zM668 260h1v1h-1zM898 260h1v1h-1zM67 261h1v1h-1zM668 261h1v1h-1zM898 261h1v1h-1zM67 262h1v1h-1zM668 262h1v1h-1zM898 262h1v1h-1zM67 263h1v1h-1zM668 263h1v1h-1zM898 263h1v1h-1zM67 264h1v1h-1zM668 264h1v1h-1zM898 264h1v1h-1zM67 265h1v1h-1zM668 265h1v1h-1zM898 265h1v1h-1zM67 266h1v1h-1zM668 266h1v1h-1zM898 266h1v1h-1zM65 267h3v1h-3zM668 267h1v1h-1zM898 267h1v1h-1zM67 268h1v1h-1zM668 268h1v1h-1zM898 268h1v1h-1zM67 269h1v1h-1zM668 269h1v1h-1zM898 269h1v1h-1zM67 270h1v1h-1zM668 270h1v1h-1zM898 270h1v1h-1zM67 271h1v1h-1zM668 271h1v1h-1zM898 271h1v1h-1zM67 272h1v1h-1zM668 272h1v1h-1zM898 272h1v1h-1zM67 273h1v1h-1zM668 273h1v1h-1zM898 273h1v1h-1zM67 274h1v1h-1zM668 274h1v1h-1zM898 274h1v1h-1zM67 275h1v1h-1zM668 275h1v1h-1zM898 275h1v1h-1zM63 276h5v1h-5zM668 276h1v1h-1zM898 276h1v1h-1zM67 277h1v1h-1zM668 277h1v1h-1zM898 277h1v1h-1zM67 278h1v1h-1zM668 278h1v1h-1zM898 278h1v1h-1zM67 279h1v1h-1zM668 279h1v1h-1zM898 279h1v1h-1zM67 280h1v1h-1zM668 280h1v1h-1zM898 280h1v1h-1zM67 281h1v1h-1zM668 281h1v1h-1zM898 281h1v1h-1zM67 282h1v1h-1zM668 282h1v1h-1zM898 282h1v1h-1zM67 283h1v1h-1zM668 283h1v1h-1zM898 283h1v1h-1zM65 284h3v1h-3zM668 284h1v1h-1zM898 284h1v1h-1zM67 285h1v1h-1zM668 285h1v1h-1zM898 285h1v1h-1zM67 286h1v1h-1zM668 286h1v1h-1zM898 286h1v1h-1zM67 287h1v1h-1zM668 287h1v1h-1zM898 287h1v1h-1zM67 288h1v1h-1zM668 288h1v1h-1zM898 288h1v1h-1zM67 289h1v1h-1zM668 289h1v1h-1zM898 289h1v1h-1zM67 290h1v1h-1zM668 290h1v1h-1zM898 290h1v1h-1zM67 291h1v1h-1zM668 291h1v1h-1zM898 291h1v1h-1zM65 292h3v1h-3zM668 292h1v1h-1zM898 292h1v1h-1zM67 293h1v1h-1zM668 293h1v1h-1zM898 293h1v1h-1zM67 294h1v1h-1zM668 294h1v1h-1zM898 294h1v1h-1zM67 295h1v1h-1zM668 295h1v1h-1zM898 295h1v1h-1zM67 296h1v1h-1zM668 296h1v1h-1zM898 296h1v1h-1zM67 297h1v1h-1zM668 297h1v1h-1zM898 297h1v1h-1zM67 298h1v1h-1zM668 298h1v1h-1zM898 298h1v1h-1zM67 299h1v1h-1zM668 299h1v1h-1zM898 299h1v1h-1zM67 300h1v1h-1zM668 300h1v1h-1zM898 300h1v1h-1zM65 301h3v1h-3zM668 301h1v1h-1zM898 301h1v1h-1zM67 302h1v1h-1zM668 302h1v1h-1zM898 302h1v1h-1zM67 303h1v1h-1zM668 303h1v1h-1zM898 303h1v1h-1zM67 304h1v1h-1zM668 304h1v1h-1zM898 304h1v1h-1zM67 305h1v1h-1zM668 305h1v1h-1zM898 305h1v1h-1zM67 306h1v1h-1zM668 306h1v1h-1zM898 306h1v1h-1zM67 307h1v1h-1zM668 307h1v1h-1zM898 307h1v1h-1zM67 308h1v1h-1zM668 308h1v1h-1zM898 308h1v1h-1zM65 309h3v1h-3zM668 309h1v1h-1zM898 309h1v1h-1zM67 310h1v1h-1zM668 310h1v1h-1zM898 310h1v1h-1zM67 311h1v1h-1zM668 311h1v1h-1zM898 311h1v1h-1zM67 312h1v1h-1zM668 312h1v1h-1zM898 312h1v1h-1zM67 313h1v1h-1zM668 313h1v1h-1zM898 313h1v1h-1zM67 314h1v1h-1zM668 314h1v1h-1zM898 314h1v1h-1zM67 315h1v1h-1zM668 315h1v1h-1zM898 315h1v1h-1zM67 316h1v1h-1zM668 316h1v1h-1zM898 316h1v1h-1zM63 317h5v1h-5zM668 317h1v1h-1zM898 317h1v1h-1zM67 318h1v1h-1zM668 318h1v1h-1zM898 318h1v1h-1zM67 319h1v1h-1zM668 319h1v1h-1zM898 319h1v1h-1zM67 320h1v1h-1zM668 320h1v1h-1zM898 320h1v1h-1zM67 321h1v1h-1zM668 321h1v1h-1zM898 321h1v1h-1zM67 322h1v1h-1zM668 322h1v1h-1zM898 322h1v1h-1zM67 323h1v1h-1zM668 323h1v1h-1zM898 323h1v1h-1zM67 324h1v1h-1zM668 324h1v1h-1zM898 324h1v1h-1zM67 325h1v1h-1zM668 325h1v1h-1zM898 325h1v1h-1zM65 326h3v1h-3zM668 326h1v1h-1zM898 326h1v1h-1zM67 327h1v1h-1zM668 327h1v1h-1zM898 327h1v1h-1zM67 328h1v1h-1zM668 328h1v1h-1zM898 328h1v1h-1zM67 329h1v1h-1zM668 329h1v1h-1zM898 329h1v1h-1zM67 330h1v1h-1zM668 330h1v1h-1zM898 330h1v1h-1zM67 331h1v1h-1zM668 331h1v1h-1zM898 331h1v1h-1zM67 332h1v1h-1zM668 332h1v1h-1zM898 332h1v1h-1zM67 333h1v1h-1zM668 333h1v1h-1zM898 333h1v1h-1zM65 334h3v1h-3zM668 334h1v1h-1zM898 334h1v1h-1zM67 335h1v1h-1zM668 335h1v1h-1zM898 335h1v1h-1zM67 336h1v1h-1zM668 336h1v1h-1zM898 336h1v1h-1zM67 337h1v1h-1zM668 337h1v1h-1zM898 337h1v1h-1zM67 338h1v1h-1zM668 338h1v1h-1zM898 338h1v1h-1zM67 339h1v1h-1zM668 339h1v1h-1zM898 339h1v1h-1zM67 340h1v1h-1zM668 340h1v1h-1zM898 340h1v1h-1zM67 341h1v1h-1zM668 341h1v1h-1zM898 341h1v1h-1zM65 342h3v1h-3zM668 342h1v1h-1zM898 342h1v1h-1zM67 343h1v1h-1zM668 343h1v1h-1zM898 343h1v1h-1zM67 344h1v1h-1zM668 344h1v1h-1zM898 344h1v1h-1zM67 345h1v1h-1zM668 345h1v1h-1zM898 345h1v1h-1zM67 346h1v1h-1zM668 346h1v1h-1zM898 346h1v1h-1zM67 347h1v1h-1zM668 347h1v1h-1zM898 347h1v1h-1zM67 348h1v1h-1zM668 348h1v1h-1zM898 348h1v1h-1zM67 349h1v1h-1zM668 349h1v1h-1zM898 349h1v1h-1zM67 350h1v1h-1zM668 350h1v1h-1zM898 350h1v1h-1zM65 351h3v1h-3zM668 351h1v1h-1zM898 351h1v1h-1zM67 352h1v1h-1zM668 352h1v1h-1zM898 352h1v1h-1zM67 353h1v1h-1zM668 353h1v1h-1zM898 353h1v1h-1zM67 354h1v1h-1zM668 354h1v1h-1zM898 354h1v1h-1zM67 355h1v1h-1zM668 355h1v1h-1zM898 355h1v1h-1zM67 356h1v1h-1zM668 356h1v1h-1zM898 356h1v1h-1zM67 357h1v1h-1zM668 357h1v1h-1zM898 357h1v1h-1zM67 358h1v1h-1zM668 358h1v1h-1zM898 358h1v1h-1zM63 359h5v1h-5zM668 359h1v1h-1zM898 359h1v1h-1zM67 360h1v1h-1zM668 360h1v1h-1zM898 360h1v1h-1zM67 361h1v1h-1zM668 361h1v1h-1zM898 361h1v1h-1zM67 362h1v1h-1zM668 362h1v1h-1zM898 362h1v1h-1zM67 363h1v1h-1zM668 363h1v1h-1zM898 363h1v1h-1zM67 364h1v1h-1zM668 364h1v1h-1zM898 364h1v1h-1zM67 365h1v1h-1zM668 365h1v1h-1zM898 365h1v1h-1zM67 366h1v1h-1zM668 366h1v1h-1zM898 366h1v1h-1zM65 367h3v1h-3zM668 367h1v1h-1zM898 367h1v1h-1zM67 368h1v1h-1zM668 368h1v1h-1zM898 368h1v1h-1zM67 369h1v1h-1zM668 369h1v1h-1zM898 369h1v1h-1zM67 370h1v1h-1zM668 370h1v1h-1zM898 370h1v1h-1zM67 371h1v1h-1zM668 371h1v1h-1zM898 371h1v1h-1zM67 372h1v1h-1zM668 372h1v1h-1zM898 372h1v1h-1zM67 373h1v1h-1zM668 373h1v1h-1zM898 373h1v1h-1zM67 374h1v1h-1zM668 374h1v1h-1zM898 374h1v1h-1zM67 375h1v1h-1zM668 375h1v1h-1zM898 375h1v1h-1zM65 376h3v1h-3zM668 376h1v1h-1zM898 376h1v1h-1zM67 377h1v1h-1zM668 377h1v1h-1zM898 377h1v1h-1zM67 378h1v1h-1zM668 378h1v1h-1zM898 378h1v1h-1zM67 379h1v1h-1zM668 379h1v1h-1zM898 379h1v1h-1zM67 380h1v1h-1zM668 380h1v1h-1zM898 380h1v1h-1zM67 381h1v1h-1zM668 381h1v1h-1zM898 381h1v1h-1zM67 382h1v1h-1zM668 382h1v1h-1zM898 382h1v1h-1zM67 383h1v1h-1zM668 383h1v1h-1zM898 383h1v1h-1zM65 384h3v1h-3zM668 384h1v1h-1zM898 384h1v1h-1zM67 385h1v1h-1zM668 385h1v1h-1zM898 385h1v1h-1zM67 386h1v1h-1zM668 386h1v1h-1zM898 386h1v1h-1zM67 387h1v1h-1zM668 387h1v1h-1zM898 387h1v1h-1zM67 388h1v1h-1zM668 388h1v1h-1zM898 388h1v1h-1zM67 389h1v1h-1zM668 389h1v1h-1zM898 389h1v1h-1zM67 390h1v1h-1zM668 390h1v1h-1zM898 390h1v1h-1zM67 391h1v1h-1zM668 391h1v1h-1zM898 391h1v1h-1zM67 392h1v1h-1zM668 392h1v1h-1zM898 392h1v1h-1zM65 393h3v1h-3zM668 393h1v1h-1zM898 393h1v1h-1zM67 394h1v1h-1zM668 394h1v1h-1zM898 394h1v1h-1zM67 395h1v1h-1zM668 395h1v1h-1zM898 395h1v1h-1zM67 396h1v1h-1zM668 396h1v1h-1zM898 396h1v1h-1zM67 397h1v1h-1zM668 397h1v1h-1zM898 397h1v1h-1zM67 398h1v1h-1zM668 398h1v1h-1zM898 398h1v1h-1zM67 399h1v1h-1zM668 399h1v1h-1zM898 399h1v1h-1zM67 400h1v1h-1zM668 400h1v1h-1zM898 400h1v1h-1zM63 401h5v1h-5zM668 401h1v1h-1zM898 401h1v1h-1zM67 402h1v1h-1zM668 402h1v1h-1zM898 402h1v1h-1zM67 403h1v1h-1zM668 403h1v1h-1zM898 403h1v1h-1zM67 404h1v1h-1zM668 404h1v1h-1zM898 404h1v1h-1zM67 405h1v1h-1zM668 405h1v1h-1zM898 405h1v1h-1zM67 406h1v1h-1zM668 406h1v1h-1zM898 406h1v1h-1zM67 407h1v1h-1zM668 407h1v1h-1zM898 407h1v1h-1zM67 408h1v1h-1zM668 408h1v1h-1zM898 408h1v1h-1zM65 409h3v1h-3zM668 409h1v1h-1zM898 409h1v1h-1zM67 410h1v1h-1zM668 410h1v1h-1zM898 410h1v1h-1zM67 411h1v1h-1zM668 411h1v1h-1zM898 411h1v1h-1zM67 412h1v1h-1zM668 412h1v1h-1zM898 412h1v1h-1zM67 413h1v1h-1zM668 413h1v1h-1zM898 413h1v1h-1zM67 414h1v1h-1zM668 414h1v1h-1zM898 414h1v1h-1zM67 415h1v1h-1zM668 415h1v1h-1zM898 415h1v1h-1zM67 416h1v1h-1zM668 416h1v1h-1zM898 416h1v1h-1zM67 417h1v1h-1zM668 417h1v1h-1zM898 417h1v1h-1zM65 418h3v1h-3zM668 418h1v1h-1zM898 418h1v1h-1zM67 419h1v1h-1zM668 419h1v1h-1zM898 419h1v1h-1zM67 420h1v1h-1zM668 420h1v1h-1zM898 420h1v1h-1zM67 421h1v1h-1zM668 421h1v1h-1zM898 421h1v1h-1zM67 422h1v1h-1zM668 422h1v1h-1zM898 422h1v1h-1zM67 423h1v1h-1zM668 423h1v1h-1zM898 423h1v1h-1zM67 424h1v1h-1zM668 424h1v1h-1zM898 424h1v1h-1zM67 425h1v1h-1zM668 425h1v1h-1zM898 425h1v1h-1zM65 426h3v1h-3zM668 426h1v1h-1zM898 426h1v1h-1zM67 427h1v1h-1zM668 427h1v1h-1zM898 427h1v1h-1zM67 428h1v1h-1zM668 428h1v1h-1zM898 428h1v1h-1zM67 429h1v1h-1zM668 429h1v1h-1zM898 429h1v1h-1zM67 430h1v1h-1zM668 430h1v1h-1zM898 430h1v1h-1zM67 431h1v1h-1zM668 431h1v1h-1zM898 431h1v1h-1zM67 432h1v1h-1zM668 432h1v1h-1zM898 432h1v1h-1zM67 433h1v1h-1zM668 433h1v1h-1zM898 433h1v1h-1zM65 434h3v1h-3zM668 434h1v1h-1zM898 434h1v1h-1zM67 435h1v1h-1zM668 435h1v1h-1zM898 435h1v1h-1zM67 436h1v1h-1zM668 436h1v1h-1zM898 436h1v1h-1zM67 437h1v1h-1zM668 437h1v1h-1zM898 437h1v1h-1zM67 438h1v1h-1zM668 438h1v1h-1zM898 438h1v1h-1zM67 439h1v1h-1zM668 439h1v1h-1zM898 439h1v1h-1zM67 440h1v1h-1zM668 440h1v1h-1zM898 440h1v1h-1zM67 441h1v1h-1zM668 441h1v1h-1zM898 441h1v1h-1zM67 442h1v1h-1zM668 442h1v1h-1zM898 442h1v1h-1zM63 443h5v1h-5zM668 443h1v1h-1zM898 443h1v1h-1zM67 444h1v1h-1zM668 444h1v1h-1zM898 444h1v1h-1zM67 445h1v1h-1zM668 445h1v1h-1zM898 445h1v1h-1zM67 446h1v1h-1zM668 446h1v1h-1zM898 446h1v1h-1zM67 447h1v1h-1zM668 447h1v1h-1zM898 447h1v1h-1zM67 448h1v1h-1zM668 448h1v1h-1zM898 448h1v1h-1zM67 449h1v1h-1zM668 449h1v1h-1zM898 449h1v1h-1zM67 450h1v1h-1zM668 450h1v1h-1zM898 450h1v1h-1zM65 451h3v1h-3zM668 451h1v1h-1zM898 451h1v1h-1zM67 452h1v1h-1zM668 452h1v1h-1zM898 452h1v1h-1zM67 453h1v1h-1zM668 453h1v1h-1zM898 453h1v1h-1zM67 454h1v1h-1zM668 454h1v1h-1zM898 454h1v1h-1zM67 455h1v1h-1zM668 455h1v1h-1zM898 455h1v1h-1zM67 456h1v1h-1zM668 456h1v1h-1zM898 456h1v1h-1zM67 457h1v1h-1zM668 457h1v1h-1zM898 457h1v1h-1zM67 458h1v1h-1zM668 458h1v1h-1zM898 458h1v1h-1zM65 459h3v1h-3zM668 459h1v1h-1zM898 459h1v1h-1zM67 460h1v1h-1zM668 460h1v1h-1zM898 460h1v1h-1zM67 461h1v1h-1zM668 461h1v1h-1zM898 461h1v1h-1zM67 462h1v1h-1zM668 462h1v1h-1zM898 462h1v1h-1zM67 463h1v1h-1zM668 463h1v1h-1zM898 463h1v1h-1zM67 464h1v1h-1zM668 464h1v1h-1zM898 464h1v1h-1zM67 465h1v1h-1zM668 465h1v1h-1zM898 465h1v1h-1zM67 466h1v1h-1zM668 466h1v1h-1zM898 466h1v1h-1zM67 467h1v1h-1zM668 467h1v1h-1zM898 467h1v1h-1zM65 468h3v1h-3zM668 468h1v1h-1zM898 468h1v1h-1zM67 469h1v1h-1zM668 469h1v1h-1zM898 469h1v1h-1zM67 470h1v1h-1zM668 470h1v1h-1zM898 470h1v1h-1zM67 471h1v1h-1zM668 471h1v1h-1zM898 471h1v1h-1zM67 472h1v1h-1zM668 472h1v1h-1zM898 472h1v1h-1zM67 473h1v1h-1zM668 473h1v1h-1zM898 473h1v1h-1zM67 474h1v1h-1zM668 474h1v1h-1zM898 474h1v1h-1zM67 475h1v1h-1zM668 475h1v1h-1zM898 475h1v1h-1zM65 476h3v1h-3zM668 476h1v1h-1zM898 476h1v1h-1zM67 477h1v1h-1zM668 477h1v1h-1zM898 477h1v1h-1zM67 478h1v1h-1zM668 478h1v1h-1zM898 478h1v1h-1zM67 479h1v1h-1zM668 479h1v1h-1zM898 479h1v1h-1zM67 480h1v1h-1zM668 480h1v1h-1zM898 480h1v1h-1zM67 481h1v1h-1zM668 481h1v1h-1zM898 481h1v1h-1zM67 482h1v1h-1zM668 482h1v1h-1zM898 482h1v1h-1zM67 483h1v1h-1zM668 483h1v1h-1zM898 483h1v1h-1zM67 484h1v1h-1zM668 484h1v1h-1zM898 484h1v1h-1zM63 485h5v1h-5zM668 485h1v1h-1zM898 485h1v1h-1zM67 486h1v1h-1zM668 486h1v1h-1zM898 486h1v1h-1zM67 487h1v1h-1zM668 487h1v1h-1zM898 487h1v1h-1zM67 488h1v1h-1zM668 488h1v1h-1zM898 488h1v1h-1zM67 489h1v1h-1zM668 489h1v1h-1zM898 489h1v1h-1zM67 490h1v1h-1zM668 490h1v1h-1zM898 490h1v1h-1zM67 491h832v1h-832zM71 492h1v1h-1zM92 492h1v1h-1zM112 492h1v1h-1zM133 492h1v1h-1zM153 492h1v1h-1zM174 492h1v1h-1zM194 492h1v1h-1zM215 492h1v1h-1zM236 492h1v1h-1zM256 492h1v1h-1zM277 492h1v1h-1zM297 492h1v1h-1zM318 492h1v1h-1zM339 492h1v1h-1zM359 492h1v1h-1zM380 492h1v1h-1zM400 492h1v1h-1zM421 492h1v1h-1zM441 492h1v1h-1zM462 492h1v1h-1zM483 492h1v1h-1zM503 492h1v1h-1zM524 492h1v1h-1zM544 492h1v1h-1zM565 492h1v1h-1zM585 492h1v1h-1zM606 492h1v1h-1zM627 492h1v1h-1zM647 492h1v1h-1zM668 492h1v1h-1zM688 492h1v1h-1zM709 492h1v1h-1zM729 492h1v1h-1zM750 492h1v1h-1zM771 492h1v1h-1zM791 492h1v1h-1zM812 492h1v1h-1zM832 492h1v1h-1zM853 492h1v1h-1zM874 492h1v1h-1zM894 492h1v1h-1zM71 493h1v1h-1zM92 493h1v1h-1zM112 493h1v1h-1zM133 493h1v1h-1zM153 493h1v1h-1zM174 493h1v1h-1zM194 493h1v1h-1zM215 493h1v1h-1zM236 493h1v1h-1zM256 493h1v1h-1zM277 493h1v1h-1zM297 493h1v1h-1zM318 493h1v1h-1zM339 493h1v1h-1zM359 493h1v1h-1zM380 493h1v1h-1zM400 493h1v1h-1zM421 493h1v1h-1zM441 493h1v1h-1zM462 493h1v1h-1zM483 493h1v1h-1zM503 493h1v1h-1zM524 493h1v1h-1zM544 493h1v1h-1zM565 493h1v1h-1zM585 493h1v1h-1zM606 493h1v1h-1zM627 493h1v1h-1zM647 493h1v1h-1zM668 493h1v1h-1zM688 493h1v1h-1zM709 493h1v1h-1zM729 493h1v1h-1zM750 493h1v1h-1zM771 493h1v1h-1zM791 493h1v1h-1zM812 493h1v1h-1zM832 493h1v1h-1zM853 493h1v1h-1zM874 493h1v1h-1zM894 493h1v1h-1zM71 494h1v1h-1zM92 494h1v1h-1zM112 494h1v1h-1zM133 494h1v1h-1zM153 494h1v1h-1zM174 494h1v1h-1zM194 494h1v1h-1zM215 494h1v1h-1zM236 494h1v1h-1zM256 494h1v1h-1zM277 494h1v1h-1zM297 494h1v1h-1zM318 494h1v1h-1zM339 494h1v1h-1zM359 494h1v1h-1zM380 494h1v1h-1zM400 494h1v1h-1zM421 494h1v1h-1zM441 494h1v1h-1zM462 494h1v1h-1zM483 494h1v1h-1zM503 494h1v1h-1zM524 494h1v1h-1zM544 494h1v1h-1zM565 494h1v1h-1zM585 494h1v1h-1zM606 494h1v1h-1zM627 494h1v1h-1zM647 494h1v1h-1zM668 494h1v1h-1zM688 494h1v1h-1zM709 494h1v1h-1zM729 494h1v1h-1zM750 494h1v1h-1zM771 494h1v1h-1zM791 494h1v1h-1zM812 494h1v1h-1zM832 494h1v1h-1zM853 494h1v1h-1zM874 494h1v1h-1zM894 494h1v1h-1zM71 495h1v1h-1zM92 495h1v1h-1zM112 495h1v1h-1zM133 495h1v1h-1zM153 495h1v1h-1zM174 495h1v1h-1zM194 495h1v1h-1zM215 495h1v1h-1zM236 495h1v1h-1zM256 495h1v1h-1zM277 495h1v1h-1zM297 495h1v1h-1zM318 495h1v1h-1zM339 495h1v1h-1zM359 495h1v1h-1zM380 495h1v1h-1zM400 495h1v1h-1zM421 495h1v1h-1zM441 495h1v1h-1zM462 495h1v1h-1zM483 495h1v1h-1zM503 495h1v1h-1zM524 495h1v1h-1zM544 495h1v1h-1zM565 495h1v1h-1zM585 495h1v1h-1zM606 495h1v1h-1zM627 495h1v1h-1zM647 495h1v1h-1zM668 495h1v1h-1zM688 495h1v1h-1zM709 495h1v1h-1zM729 495h1v1h-1zM750 495h1v1h-1zM771 495h1v1h-1zM791 495h1v1h-1zM812 495h1v1h-1zM832 495h1v1h-1zM853 495h1v1h-1zM874 495h1v1h-1zM894 495h1v1h-1zM71 496h1v1h-1zM277 496h1v1h-1zM483 496h1v1h-1zM688 496h1v1h-1zM894 496h1v1h-1zM71 497h1v1h-1zM277 497h1v1h-1zM483 497h1v1h-1zM688 497h1v1h-1zM894 497h1v1h-1zM71 498h1v1h-1zM277 498h1v1h-1zM483 498h1v1h-1zM688 498h1v1h-1zM894 498h1v1h-1z"/>
<text class="d" transform="translate(50.5 492) scale(1 0.95)">0</text>
<text class="d" transform="translate(42.5 450) scale(1 0.95)">10</text>
<text class="d" transform="translate(42.5 408) scale(1 0.95)">20</text>
<text class="d" transform="translate(42.5 366) scale(1 0.95)">30</text>
<text class="d" transform="translate(42.5 324) scale(1 0.95)">40</text>
<text class="d" transform="translate(42.5 283) scale(1 0.95)">50</text>
<text class="d" transform="translate(42.5 241) scale(1 0.95)">60</text>
<text class="d" transform="translate(42.5 199) scale(1 0.95)">70</text>
<text class="d" transform="translate(42.5 157) scale(1 0.95)">80</text>
<text class="d" transform="translate(42.5 115) scale(1 0.95)">90</text>
<text class="d" transform="translate(34.5 74) scale(1 0.95)">100</text>
<text transform="translate(1.5 60) scale(1 0.93)">Percent</text>
<text transform="translate(421.7 18) scale(1 0.93)">Access to Services</text>
<text transform="translate(449.8 32) scale(1 0.93)">Saint Louis</text>
<text transform="translate(30 518) scale(1 0.93)"><tspan class="d" x="0.5">0</tspan><tspan x="8"> = Sample</tspan></text>
<text transform="translate(187.5 518) scale(1 0.93)"><tspan class="d" x="0.5">1</tspan><tspan x="8"> = Unknow Eligibility</tspan></text>
<text transform="translate(417.5 518) scale(1 0.93)"><tspan class="d" x="0.5">2</tspan><tspan x="8"> = Not Eligible</tspan></text>
<text transform="translate(583.5 518) scale(1 0.93)"><tspan class="d" x="0.5">3</tspan><tspan x="8"> = Eligible Non-interview</tspan></text>
<text transform="translate(802 518) scale(1 0.93)"><tspan class="d" x="0.5">4</tspan><tspan x="8"> = Completed Interview</tspan></text>
<text transform="translate(437.5 545) scale(1 0.93)">Disposition</text>
<text transform="translate(717 153) scale(1 0.93)">Known Eligible</text>
<text transform="translate(289.5 77) scale(1 0.93)">highAccess</text>
<text transform="translate(457.7 77) scale(1 0.93)">mediumAccess</text>
<text transform="translate(626.5 77) scale(1 0.93)">lowAccess</text>
</svg></body></html>
